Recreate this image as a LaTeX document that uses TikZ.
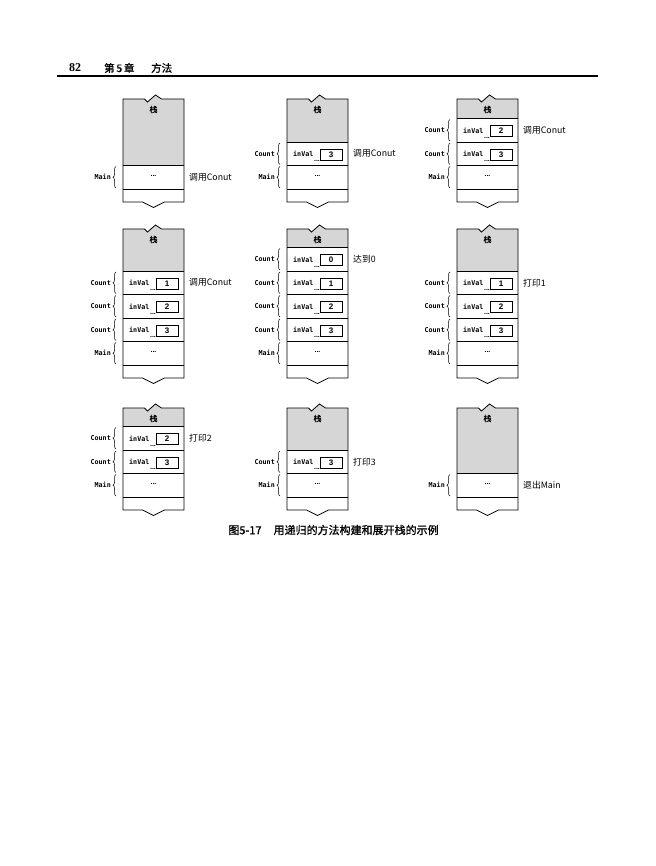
\documentclass[tikz,border=0pt]{standalone}
\usepackage{fontspec}
\setmainfont{Liberation Serif}
\newfontfamily\cjk{Noto Sans CJK SC}
\newfontfamily\cjkb[FakeBold=1.2]{Noto Sans CJK SC}
\newfontfamily\monof{DejaVu Sans Mono}
\newfontfamily\sansf{Liberation Sans}
\usetikzlibrary{decorations.pathreplacing}
\definecolor{stackgray}{gray}{0.84}
\tikzset{
  frame/.style={line width=0.8pt, line join=miter},
  brc/.style={line width=0.5pt, decorate, decoration={brace, amplitude=3pt}},
  lbl/.style={inner sep=0pt, font=\monof\bfseries\fontsize{6.7}{7}\selectfont},
  valbox/.style={draw, line width=0.8pt, minimum width=22pt, minimum height=11pt, inner sep=0pt, font=\sansf\bfseries\fontsize{8}{9}\selectfont},
  dotsn/.style={inner sep=0pt, font=\sansf\bfseries\fontsize{7}{7}\selectfont},
  note/.style={inner sep=0pt, anchor=west, font=\cjk\fontsize{8.8}{10}\selectfont},
  title/.style={inner sep=0pt, font=\cjkb\fontsize{8}{9}\selectfont},
}
% stack frame: id, L, T, B, number of rows
\newcommand\stk[5]{%
  \pgfmathsetmacro\sR{#2+61}%
  \pgfmathsetmacro\sC{#2+30.5}%
  \pgfmathsetmacro\sG{#4-13-#5*23.5}%
  \fill[stackgray] (#2,\sG) -- (#2,#3) -- (\sC-9,#3) -- (\sC-6,#3+3) -- (\sC+2,#3-4) -- (\sC+8,#3) -- (\sR,#3) -- (\sR,\sG) -- cycle;
  \draw[frame] (#2,#3) -- (\sC-9,#3) -- (\sC-6,#3+3) -- (\sC+2,#3-4) -- (\sC+8,#3) -- (\sR,#3) -- (\sR,#4) -- (\sC+11,#4) -- (\sC,#4+5.5) -- (\sC-11,#4) -- (#2,#4) -- cycle;
  \draw[frame] (#2,#4-13) -- (\sR,#4-13);
  \node[title] (#1-t) at (\sC,#3+10.5) {栈};
}
% Count row: id, L, y0, value, note
\newcommand\cntrow[5]{%
  \draw[frame] (#2,#3) -- (#2+61,#3);
  \draw[brc] (#2-7,#3+22.5) -- (#2-7,#3+1);
  \node[lbl,anchor=east] (#1-l) at (#2-12,#3+11.75) {Count};
  \node[lbl,anchor=west] (#1-i) at (#2+6,#3+12) {inVal};
  \node[valbox] (#1-v) at (#2+44,#3+12.5) {#4};
  \node[dotsn] (#1-d) at (#2+30,#3+19) {...};
  \node[note] (#1-n) at (#2+66,#3+11.75) {#5};
}
% Main row: id, L, y0, note
\newcommand\mainrow[4]{%
  \draw[frame] (#2,#3) -- (#2+61,#3);
  \draw[brc] (#2-7,#3+22.5) -- (#2-7,#3+1);
  \node[lbl,anchor=east] (#1-l) at (#2-12,#3+11.75) {Main};
  \node[dotsn] (#1-d) at (#2+30.5,#3+10) {...};
  \node[note] (#1-n) at (#2+66,#3+11.75) {#4};
}
\begin{document}
\begin{tikzpicture}[x=1pt,y=-1pt]
\useasboundingbox (0,0) rectangle (655,866);
\fill[white] (0,0) rectangle (655,866);
% header
\node[inner sep=0pt, anchor=west, font=\bfseries\fontsize{12}{14}\selectfont] (pg) at (69,68) {82};
\node[inner sep=0pt, anchor=west, font=\cjkb\fontsize{10.5}{12}\selectfont] (ch) at (104,68) {第\,5\,章};
\node[inner sep=0pt, anchor=west, font=\cjkb\fontsize{10.5}{12}\selectfont] (ti) at (151,68) {方法};
\coordinate (hl) at (57,76);
\coordinate (hr) at (598,76);
\draw[line width=1.1pt] (hl) -- (hr);

% ---- row 1 ----
\stk{a}{123}{99}{202}{1}
\mainrow{a1}{123}{165.5}{调用Conut}

\stk{b}{287}{99}{202}{2}
\cntrow{b1}{287}{142}{3}{调用Conut}
\mainrow{b2}{287}{165.5}{}

\stk{c}{457}{99}{202}{3}
\cntrow{c1}{457}{118.5}{2}{调用Conut}
\cntrow{c2}{457}{142}{3}{}
\mainrow{c3}{457}{165.5}{}

% ---- row 2 ----
\stk{d}{123}{229}{378}{4}
\cntrow{d1}{123}{271}{1}{调用Conut}
\cntrow{d2}{123}{294.5}{2}{}
\cntrow{d3}{123}{318}{3}{}
\mainrow{d4}{123}{341.5}{}

\stk{e}{287}{229}{378}{5}
\cntrow{e1}{287}{247.5}{0}{达到0}
\cntrow{e2}{287}{271}{1}{}
\cntrow{e3}{287}{294.5}{2}{}
\cntrow{e4}{287}{318}{3}{}
\mainrow{e5}{287}{341.5}{}

\stk{f}{457}{229}{378}{4}
\cntrow{f1}{457}{271}{1}{打印1}
\cntrow{f2}{457}{294.5}{2}{}
\cntrow{f3}{457}{318}{3}{}
\mainrow{f4}{457}{341.5}{}

% ---- row 3 ----
\stk{g}{123}{408}{510}{3}
\cntrow{g1}{123}{426.5}{2}{打印2}
\cntrow{g2}{123}{450}{3}{}
\mainrow{g3}{123}{473.5}{}

\stk{h}{287}{408}{510}{2}
\cntrow{h1}{287}{450}{3}{打印3}
\mainrow{h2}{287}{473.5}{}

\stk{k}{457}{408}{510}{1}
\mainrow{k1}{457}{473.5}{退出Main}

% caption
\node[inner sep=0pt, font=\cjkb\fontsize{11}{13}\selectfont] (cap) at (333.5,530) {图5-17\hspace{1.1em}用递归的方法构建和展开栈的示例};
\end{tikzpicture}
\end{document}
